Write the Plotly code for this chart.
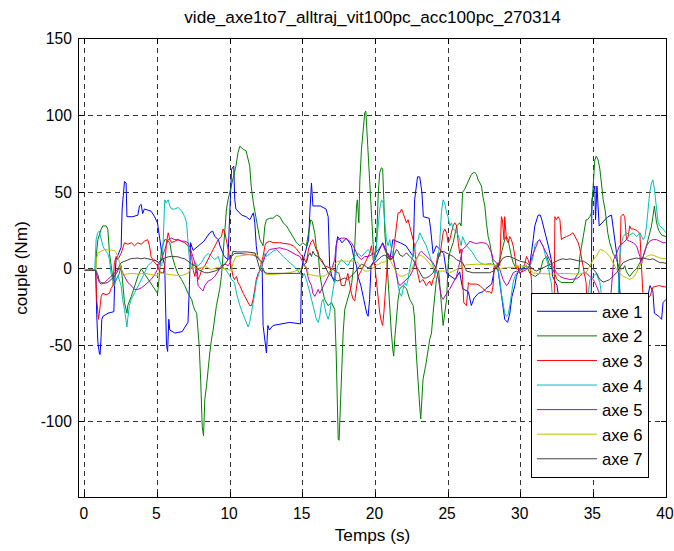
import plotly.graph_objects as go

# ---- data: (time s, torque Nm) breakpoints ----
axe1 = [(0,-1),(0.75,-1),(0.82,-30),(0.9,-48),(1.0,-55),(1.05,-56),(1.12,-45),(1.17,-33),(1.25,-31),(1.6,-29),(2.0,-28),(2.05,-10),(2.15,6),(2.3,9),(2.5,14),(2.57,39),(2.73,57),(2.84,56),(2.9,34),(3.3,34),(3.65,35),(3.76,41),(3.88,42),(3.98,36),(4.1,39),(4.56,37.6),(4.8,34),(5.0,30),(5.3,10),(5.5,2),(5.62,-50),(5.7,-54),(5.78,-33),(5.85,-40),(6.2,-42),(6.7,-41),(7.1,-35),(7.2,-11),(7.28,17),(7.45,12),(7.8,15),(8.2,18),(8.6,23.5),(8.8,24.6),(8.95,21),(9.2,19),(9.3,15),(9.6,8),(9.85,6),(10.0,40),(10.1,65),(10.25,67),(10.32,45),(10.4,39),(10.8,35),(11.1,34),(11.35,32),(11.6,36.5),(11.7,30),(11.8,15),(11.9,8),(12.0,6),(12.2,4),(12.27,-37),(12.4,-50),(12.5,-55),(12.6,-37),(12.7,-40),(12.96,-37),(13.5,-36),(14.1,-35),(14.85,-36),(14.92,0),(15.1,8),(15.4,19),(15.5,39),(15.6,56),(15.7,41),(16.2,41),(16.6,39),(16.75,34),(16.85,2),(17.0,-5),(17.2,-9),(17.3,15),(17.4,21),(17.7,17),(18.0,20),(18.35,15),(18.5,8),(18.7,2),(18.8,-5),(19.0,-11),(19.2,-20),(19.4,-29),(19.5,-31),(19.6,-20),(19.7,2),(19.96,6),(20.4,15),(20.5,17),(21.0,6),(21.2,19),(21.7,17),(22.1,15),(22.6,8),(22.7,45),(22.9,60),(23.05,60),(23.2,50),(23.3,34),(23.7,33),(23.8,26),(23.97,10),(24.2,15),(24.7,10),(24.8,2),(24.9,-3),(25.5,-7),(25.8,-2),(26.0,-13),(26.4,-15),(26.6,-24),(26.8,-19),(27.1,-16),(27.4,-15),(27.6,-13),(28.0,-10),(28.1,-5),(28.2,0),(28.4,2),(28.6,-13),(28.8,-29),(28.9,-33),(29.1,-35),(29.25,-29),(29.4,-18),(29.6,-11),(29.7,-5),(29.9,0),(30.3,0),(30.6,1),(30.86,19),(30.97,28),(31.2,35),(31.35,35),(31.45,32),(31.7,23),(31.9,15),(32.1,6),(32.2,-5),(32.5,-11),(32.7,-25),(33.5,-30),(34.4,-30),(34.85,-25),(34.9,45),(35.0,50),(35.1,54),(35.15,32),(35.25,54),(35.4,28),(35.6,30),(36.0,34),(36.25,35),(36.4,23),(36.6,10),(36.8,-11),(36.9,-25),(37.5,-28),(38.5,-28),(38.7,-20),(38.9,-11),(39.1,-15),(39.2,-29),(39.5,-31),(39.7,-33),(39.8,-22),(40.0,-20)]

axe2 = [(0,-1),(0.75,-1),(0.8,10),(0.9,19),(1.13,26),(1.24,28),(1.47,28),(1.58,26),(1.7,10),(1.8,2),(1.97,-11),(2.0,-11),(2.16,-7),(2.38,-3),(2.5,2),(2.6,-7),(2.73,-22),(2.9,-29),(2.96,-24),(3.2,-18),(3.42,-11),(3.65,-5),(3.88,0),(4.1,-3),(4.33,-7),(4.68,-11),(5.0,-16),(5.05,-13),(5.16,0),(5.28,13),(5.5,19),(5.6,19),(5.85,17),(5.97,10),(6.2,2),(6.4,-3),(6.65,-7),(6.88,-11),(7.1,-16),(7.2,-18),(7.35,-20),(7.46,-24),(7.57,-27),(7.7,-29),(7.8,-42),(7.87,-50),(7.98,-74),(8.08,-103),(8.17,-109),(8.2,-98),(8.26,-85),(8.37,-77),(8.49,-63),(8.6,-55),(8.72,-46),(8.83,-40),(9.06,-24),(9.29,-13),(9.4,-5),(9.64,26),(9.75,39),(9.86,45),(9.98,50),(10.1,54),(10.2,60),(10.4,67),(10.55,76),(10.67,80),(10.9,78),(11.1,77),(11.35,67),(11.45,54),(11.6,43),(11.8,32),(12.05,19),(12.27,15),(12.39,28),(12.5,32),(12.73,33),(12.96,33),(13.2,35),(13.42,34),(13.65,30),(13.88,28),(14.1,24.6),(14.34,21),(14.57,17),(14.8,15),(15.0,17),(15.25,15),(15.4,24),(15.55,32),(15.65,31),(15.83,23),(15.94,13),(16.06,11),(16.17,-3),(16.3,-11),(16.5,-20),(16.75,-24),(16.98,-22),(17.2,-26.5),(17.3,-55),(17.4,-85),(17.44,-111),(17.5,-112),(17.55,-98),(17.6,-81),(17.66,-63),(17.78,-42),(17.89,-26.5),(18.1,-20),(18.35,-11),(18.47,-1),(18.58,15),(18.7,41),(18.76,45),(18.86,30),(18.93,58),(19.04,78),(19.15,91),(19.27,102),(19.34,103),(19.4,93),(19.5,80),(19.6,63),(19.7,39),(19.85,15),(19.96,6),(20.07,15),(20.2,50),(20.3,63),(20.42,66),(20.5,65),(20.58,45),(20.65,23),(20.76,10),(20.87,-9),(20.99,-31),(21.1,-42),(21.2,-53),(21.26,-57),(21.33,-46),(21.45,-31),(21.56,-20),(21.68,-13),(21.9,-11),(22.14,-13),(22.36,-20),(22.6,-24),(22.7,-33),(22.8,-53),(22.94,-79),(23.05,-90),(23.12,-98),(23.2,-81),(23.28,-72),(23.4,-66),(23.5,-61),(23.74,-46),(23.86,-42),(23.97,-29),(24.08,-16),(24.2,-7),(24.35,-1),(24.5,-20),(24.66,-37),(24.9,-20),(25.0,2),(25.1,10),(25.35,17),(25.6,28),(25.8,30),(25.9,28),(26.0,50),(26.15,52),(26.35,56),(26.5,60),(26.6,61.5),(26.73,62.6),(26.84,63),(26.96,61.5),(27.07,58),(27.19,56),(27.3,54),(27.4,47),(27.53,41),(27.64,30),(27.76,21),(27.87,17),(28.0,10),(28.1,4),(28.2,2),(28.4,-1),(28.56,6),(28.79,15),(28.9,19),(29.0,21),(29.13,19),(29.36,8),(29.48,4),(29.7,0),(30.0,-1),(30.4,2),(30.63,-3),(31.0,-5),(31.3,-3),(31.55,6),(31.8,8),(32.0,2),(32.2,0),(32.5,-7),(32.8,-9),(33.6,-9),(34.0,-2),(34.07,8),(34.2,15),(34.3,23),(34.4,28),(34.5,32),(34.6,32),(34.76,34),(34.87,36.5),(34.99,56),(35.1,71),(35.2,73.5),(35.33,71),(35.45,65),(35.56,54),(35.68,45),(35.8,39),(36.0,23),(36.13,17),(36.36,10),(36.6,6),(36.8,0),(37.05,0),(37.16,2),(37.28,-2),(37.5,-5),(37.74,-2),(37.97,0),(38.2,4),(38.43,8),(38.66,15),(38.88,23.5),(39.0,28),(39.1,34),(39.2,41),(39.35,30),(39.5,25),(39.7,22),(40.0,21)]

axe3 = [(0,-1),(0.75,-1),(0.82,-20),(0.9,-29),(0.94,-33),(1.0,-29),(1.13,-18),(1.24,-16),(1.47,-17),(1.7,-16),(1.8,-13),(1.93,-11),(2.04,4),(2.16,8),(2.27,6),(2.5,10),(2.6,13),(2.73,17),(2.96,16),(3.2,17),(3.42,15),(3.65,17),(3.88,16),(4.1,18),(4.33,19),(4.45,15),(4.56,8),(4.8,4),(5.0,2),(5.16,-2),(5.4,-3),(5.5,2),(5.62,17),(5.74,23.5),(5.85,19),(5.97,17),(6.2,18),(6.42,19),(6.65,18),(6.88,17),(7.1,15),(7.35,8),(7.46,-1),(7.57,-5),(7.7,2),(7.8,-7),(7.9,-5),(8.03,-1),(8.26,2),(8.49,6),(8.72,10),(8.95,15),(9.18,19),(9.4,21),(9.52,26),(9.64,23.5),(9.75,19),(9.86,13),(9.98,6),(10.2,-5),(10.3,-7),(10.44,-5),(10.55,-9),(10.67,-11),(10.9,-16),(11.1,-20),(11.24,-22),(11.35,-24),(11.47,-24),(11.58,-20),(11.7,-13),(11.8,-7),(11.93,-3),(12.05,-1),(12.16,4),(12.27,8),(12.4,15),(12.5,17),(12.73,18),(12.96,17),(13.42,17),(13.88,16.5),(14.1,16),(14.34,15),(14.57,13),(14.8,10),(15.0,8),(15.25,4),(15.4,13),(15.55,17),(15.7,19),(15.83,15),(16.06,10),(16.2,6),(16.5,2),(17.0,0),(17.5,-3),(17.66,-11),(17.89,-11),(18.1,-3),(18.35,-16),(18.47,-20),(18.58,-21),(18.7,-11),(18.8,-5),(19.04,-1),(19.27,4),(19.5,8),(19.6,10),(19.73,15),(19.85,6),(19.96,2),(20.2,-20),(20.3,-29),(20.42,-35),(20.5,-37),(20.58,-29),(20.7,-11),(20.76,-3),(20.87,10),(20.99,8),(21.1,6),(21.2,8),(21.33,17),(21.45,28),(21.56,36.5),(21.68,36.5),(21.8,39),(21.9,36.5),(22.0,34),(22.14,30),(22.25,32),(22.36,28),(22.48,23.5),(22.6,19),(22.7,15),(22.8,2),(22.94,-5),(23.05,-9),(23.16,-8),(23.28,-7),(23.5,-11),(23.74,-8),(23.86,-11),(23.97,-7),(24.08,-5),(24.2,4),(24.3,10),(24.43,8),(24.54,17),(24.66,23.5),(24.77,26),(24.9,23.5),(25.0,17),(25.12,19),(25.23,23.5),(25.35,28),(25.46,30),(25.6,28),(25.7,17),(25.8,10),(25.9,13),(26.0,-11),(26.08,-22),(26.15,-23),(26.27,-24),(26.4,-9),(26.5,-10),(26.96,-10),(27.2,-11),(27.4,-13),(27.64,-15),(27.87,-15),(28.0,-16),(28.1,-11),(28.18,2),(28.33,2),(28.45,4),(28.56,2),(28.67,34),(28.74,32),(28.85,19),(28.9,34),(29.02,19),(29.13,17),(29.25,21),(29.36,19),(29.48,15),(29.6,8),(29.7,0),(29.8,2),(29.94,-3),(30.2,0),(30.4,8),(30.5,6),(30.63,2),(30.74,-7),(30.8,-30),(31.5,-35),(32.3,-35),(32.35,34),(32.46,32),(32.58,34),(32.7,32),(32.8,19),(32.92,20),(33.15,21),(33.38,22),(33.6,23.5),(33.73,21),(33.84,19),(33.96,17),(34.07,13),(34.2,6),(34.3,0),(34.4,-5),(34.5,-9),(34.6,-30),(36.7,-30),(36.8,-10),(36.9,34),(37.05,35.7),(37.16,34),(37.28,19),(37.4,21),(37.5,28),(37.6,26),(37.74,26),(38.0,25),(38.2,23),(38.3,2),(38.43,-20),(38.9,-18),(39.1,-12),(39.5,-11),(40.0,-12)]

axe4 = [(0,-1),(0.68,-1),(0.78,19),(0.89,23.5),(1.0,24.6),(1.13,19),(1.24,15),(1.36,12.6),(1.58,10),(1.7,6),(1.8,-3),(1.93,-7),(2.04,-11),(2.15,-7),(2.3,-5),(2.5,-11),(2.6,-20),(2.73,-26.5),(2.84,-33),(2.9,-38),(2.96,-32),(3.07,-24),(3.2,-20),(3.42,-16),(3.65,-11),(3.88,-7),(4.1,-3),(4.33,2),(4.56,4),(4.8,6),(5.0,4),(5.3,2),(5.4,19),(5.5,45),(5.6,43),(5.74,45),(5.85,41),(5.97,39),(6.2,39),(6.42,40),(6.65,38),(6.88,34),(7.0,30),(7.1,19),(7.2,6),(7.35,0),(7.57,4),(7.8,2),(8.03,4),(8.26,8),(8.49,10),(8.72,8),(8.95,6),(9.18,8),(9.4,2),(9.64,0),(9.87,-3),(10.1,-7),(10.3,-9),(10.44,-16),(10.67,-24),(10.9,-30),(11.1,-35),(11.24,-38),(11.35,-35),(11.47,-29),(11.58,-22),(11.7,-16),(11.8,-9),(11.93,-5),(12.05,-1),(12.27,6),(12.4,10),(12.5,8),(12.73,10),(12.96,11.5),(13.2,12.6),(13.42,10),(13.65,8),(13.88,6),(14.1,4),(14.34,2),(14.57,0),(14.8,-3),(15.0,-5),(15.1,-3),(15.25,-7),(15.5,-16),(15.6,-20),(15.7,-24),(15.83,-29),(15.94,-33),(16.06,-35),(16.17,-31),(16.3,-22),(16.4,-20),(16.5,-24),(16.6,-29),(16.75,-33),(16.86,-29),(16.98,-20),(17.1,-11),(17.2,-7),(17.3,-3),(17.4,2),(17.66,6),(17.89,4),(18.1,2),(18.35,6),(18.58,8),(18.8,10),(19.04,8),(19.27,10),(19.5,12.6),(19.73,10),(19.96,6),(20.07,15),(20.2,28),(20.3,39),(20.42,45),(20.53,43),(20.65,30),(20.76,19),(20.87,15),(20.99,19),(21.2,8),(21.45,-3),(21.56,-11),(21.68,-16),(21.8,-18),(21.9,-13),(22.0,-9),(22.14,-11),(22.25,-7),(22.36,0),(22.48,6),(22.6,10),(22.8,17),(22.94,19),(23.05,23.5),(23.16,21),(23.28,19),(23.5,15),(23.74,8),(23.97,2),(24.08,-3),(24.2,2),(24.3,6),(24.43,17),(24.54,36.5),(24.66,45),(24.77,43),(24.9,36.5),(25.0,34),(25.12,28),(25.23,30),(25.35,26),(25.6,24),(25.8,19),(25.9,15),(26.0,21),(26.27,15),(26.5,12.6),(26.73,10),(26.96,6),(27.2,4),(27.4,3),(27.64,3),(27.87,3.5),(28.1,3),(28.33,2),(28.45,-1),(28.56,-7),(28.67,-16),(28.79,-22),(28.9,-29),(29.02,-31),(29.13,-30),(29.25,-24),(29.36,-16),(29.48,-9),(29.6,-5),(29.7,-3),(29.94,-1),(30.2,2),(30.6,1),(30.74,4),(30.86,8),(30.97,15),(31.08,17),(31.3,19),(31.4,17),(31.55,15),(31.66,10),(31.78,6),(31.9,2),(32.0,-5),(32.1,-9),(32.2,-20),(34.6,-20),(34.76,-7),(35.0,-5),(35.2,-3),(35.45,-9),(35.6,-20),(36.7,-20),(36.8,6),(36.9,15),(37.05,21),(37.28,23.5),(37.5,22),(37.74,23.5),(37.97,21),(38.2,23.5),(38.43,19),(38.55,21),(38.66,28),(38.77,39),(38.88,50),(39.0,56),(39.1,58),(39.2,52),(39.35,39),(39.46,30),(39.57,28),(39.8,26),(40.0,23.5)]

axe5 = [(0,-1),(0.75,-1),(0.78,-3),(0.9,-7),(1.0,-9),(1.13,-10),(1.36,-9),(1.58,-7),(1.8,-5),(2.04,-3),(2.27,0),(2.5,0),(2.73,-5),(2.96,-9),(3.2,-11),(3.42,-13.5),(3.65,-13.5),(3.88,-12.5),(4.1,-11),(4.33,-9),(4.56,-7),(4.8,-4),(5.0,-0.5),(5.05,2),(5.28,6),(5.5,12.6),(5.74,19),(5.97,20),(6.2,19),(6.42,19),(6.65,18),(6.88,18),(7.1,17),(7.2,15),(7.35,10),(7.46,8),(7.57,4),(7.7,-3),(7.8,-11),(8.03,-13.5),(8.14,-14.5),(8.26,-11),(8.49,-8),(8.72,-7),(8.95,-5),(9.18,-1.5),(9.4,2),(9.64,3),(9.87,2),(10.0,4),(10.1,8),(10.3,10),(10.67,10),(11.1,9.5),(11.58,9),(11.8,8),(12.05,6),(12.16,3),(12.27,4),(12.4,8),(12.5,10),(12.73,12.6),(12.96,13),(13.2,13.7),(13.42,13.7),(13.65,13),(13.88,12.6),(14.1,11.5),(14.34,10),(14.57,9),(14.8,8),(15.0,4),(15.25,0),(15.4,-7),(15.5,-9),(15.6,-11),(15.7,-16),(15.83,-18),(15.94,-16),(16.06,-13.5),(16.17,-16),(16.3,-13.5),(16.4,-11),(16.5,-9),(16.75,-5),(16.98,-0.5),(17.2,6),(17.3,15),(17.4,19),(17.66,20),(17.89,20),(18.1,19),(18.35,17),(18.58,13),(18.8,8),(19.04,6),(19.27,8),(19.5,8),(19.73,9),(19.96,10),(20.2,12.6),(20.42,15),(20.5,16),(20.76,10),(20.99,8),(21.2,8),(21.33,2),(21.45,-5),(21.56,-9),(21.68,-11),(21.9,-9),(22.14,-7),(22.36,-5),(22.6,-0.5),(22.8,6),(23.05,10.4),(23.16,11.5),(23.28,10.4),(23.5,8),(23.74,6),(23.97,4),(24.2,-0.5),(24.3,-5),(24.43,-11),(24.54,-18),(24.66,-20),(24.77,-18),(24.9,-16),(25.0,-14.5),(25.1,-13.5),(25.35,-9),(25.58,-5),(25.8,4),(25.9,8),(26.0,12.6),(26.27,15),(26.4,17),(26.5,18),(26.73,17),(26.96,16.5),(27.2,17),(27.4,17),(27.64,16.5),(27.76,15),(27.87,12.6),(28.0,10.4),(28.1,6),(28.2,5),(28.33,4),(28.45,2),(28.56,-0.5),(28.79,-7),(29.02,-11),(29.13,-10),(29.25,-7),(29.36,-5),(29.48,-2.6),(29.7,-1.5),(29.94,-2.6),(30.2,-1.5),(30.4,-0.5),(30.6,2),(30.86,10),(31.08,15),(31.2,18),(31.3,19),(31.4,17),(31.55,15),(31.78,10),(32.0,6),(32.2,2),(32.46,-2.6),(32.7,-5),(32.92,-6),(33.15,-6.5),(33.38,-7),(33.84,-6.5),(34.07,-5),(34.3,-2.6),(34.5,-2.6),(34.76,-5),(35.0,-7),(35.2,-11),(35.5,-18),(36.2,-18),(36.4,6),(36.6,10),(36.8,15),(37.05,17),(37.28,19),(37.5,18),(37.74,17),(37.97,15),(38.2,8),(38.3,2),(38.43,8),(38.66,15),(38.88,18),(39.1,19),(39.35,19),(39.57,18),(39.8,17),(40.0,17)]

axe6 = [(0,-1),(0.75,-1),(0.8,6),(0.9,10.4),(1.13,11.5),(1.36,12.5),(2.04,12),(2.16,10.4),(2.27,8),(2.4,4),(2.5,0),(2.6,-2.6),(2.73,-3.7),(3.2,-3),(3.65,-3.5),(4.1,-3),(4.56,-3.7),(5.0,-4.8),(5.05,-2.6),(5.3,-3),(6.0,-4),(6.65,-4.5),(7.1,-3),(7.35,1.5),(7.8,0),(8.3,1.5),(8.7,-0.5),(9.2,1),(9.6,0),(10.1,-1),(10.2,4),(10.4,8),(11.1,9),(11.8,10),(11.93,8),(12.05,6),(12.16,2),(12.27,-0.5),(12.4,-2.6),(12.5,-3.7),(13.2,-3.5),(14.1,-2.6),(14.57,-1.5),(14.8,-0.5),(15.0,2),(15.25,1.5),(15.4,-3.7),(16.0,-4.8),(16.5,-4.8),(16.75,-2.6),(16.98,-0.5),(17.2,2.8),(17.4,5),(18.0,5),(18.58,5),(18.8,4),(18.93,2),(19.04,0.5),(19.27,-1.5),(19.5,-1.5),(19.73,-0.5),(19.96,2),(20.2,2.8),(20.42,4),(20.65,4.5),(20.9,7),(21.0,6),(21.2,2),(21.45,-2.6),(21.68,-4.8),(21.9,-4.8),(22.14,-3.7),(22.36,-2.6),(22.6,2),(22.8,7),(23.05,9),(23.28,8),(23.5,6),(23.74,3),(23.97,0.5),(24.2,-0.5),(24.43,-1.5),(24.9,-1.5),(25.1,-2.6),(25.35,-1.5),(25.6,-0.5),(25.8,1.5),(26.3,2.6),(27.0,3),(27.6,3),(28.1,2.6),(28.33,1.5),(28.56,-0.5),(28.8,0.5),(29.5,1),(30.0,2),(30.4,1.5),(30.63,-0.5),(30.86,-2.6),(31.1,-3),(32.2,-3.5),(33.0,-3),(34.0,-3.5),(34.5,-2.5),(34.76,2),(35.0,6),(35.2,8),(35.45,12.6),(35.68,12),(35.9,10.4),(36.13,8),(36.36,4),(36.6,-0.5),(36.8,-2.6),(37.05,-5),(37.28,-5.8),(37.5,-7),(37.74,-5.8),(37.97,-2.6),(38.2,2),(38.43,6),(38.66,8),(38.88,9),(39.1,9),(39.35,8),(39.57,7),(40.0,6.5)]

axe7 = [(0,-1),(0.75,-1),(0.9,-4),(1.0,-8),(1.13,-9),(1.36,-9.5),(1.58,-9),(1.8,-7),(2.04,-5),(2.27,-1.5),(2.38,2),(2.5,4),(2.73,5),(2.96,6),(3.2,6.7),(3.42,6.8),(3.65,7),(3.88,6.5),(4.1,7),(4.33,6.5),(4.56,6),(4.8,5.5),(5.0,5),(5.05,4),(5.28,6),(5.5,7),(5.74,7.8),(5.97,8),(6.2,8),(6.42,7.8),(6.65,7),(6.88,6.5),(7.1,5),(7.35,3),(7.57,2),(7.8,-0.5),(8.03,-1.5),(8.26,-2.6),(8.49,-2.6),(8.72,-2.2),(8.95,-1.5),(9.18,-0.5),(9.4,0.5),(9.64,3),(9.87,6),(10.1,8),(10.2,11.5),(10.5,11),(11.1,11),(11.6,10.5),(11.7,10.4),(11.8,8),(11.93,4),(12.05,-0.5),(12.16,-1.5),(12.27,-0.5),(12.4,-2.6),(12.6,-3),(13.5,-3),(14.3,-3.2),(14.8,-3),(14.9,-0.5),(15.0,2),(15.25,4),(15.37,8),(15.5,10.4),(15.6,8),(15.7,11.5),(15.83,9),(16.06,8),(16.3,6),(16.5,2),(16.75,-2.6),(16.98,-4.8),(17.2,-7),(17.4,-8),(17.66,-7),(17.89,-6),(18.1,-7),(18.35,-4.8),(18.58,-2.6),(18.8,0.5),(19.04,3),(19.27,2),(19.5,0.5),(19.73,2),(19.96,4),(20.2,6),(20.42,8),(20.65,9),(20.76,8),(20.99,6),(21.2,7),(21.33,10.4),(21.45,12.6),(21.56,11.5),(21.68,9),(21.9,8),(22.14,10.4),(22.36,8),(22.6,6),(22.8,2),(22.94,-0.5),(23.05,-2.6),(23.16,-4.8),(23.28,-6),(23.5,-6),(23.74,-4.8),(23.97,-2.6),(24.2,2),(24.3,6),(24.43,10.4),(24.66,11.5),(24.9,10.4),(25.1,9),(25.35,8),(25.58,6),(25.8,5),(26.0,4),(26.27,-1.5),(26.7,-2.6),(27.4,-2.6),(27.87,-2.6),(28.1,-1.5),(28.33,0.5),(28.56,4),(28.79,7),(29.02,8),(29.25,8),(29.48,7),(29.7,6),(29.94,5),(30.4,4),(30.63,2),(30.86,-0.5),(31.08,-1.5),(31.3,-0.5),(31.55,0.5),(31.78,2),(32.0,3),(32.2,4),(32.46,5),(32.7,6),(32.92,6.5),(33.15,6),(33.38,6.5),(33.6,6),(33.84,5.5),(34.07,5),(34.3,5),(34.5,4),(34.76,2),(35.0,-0.5),(35.2,-2.6),(35.45,-7),(35.68,-8.7),(35.9,-8),(36.13,-7),(36.36,-4.8),(36.6,-2.6),(36.8,0.5),(37.05,4),(37.28,5),(37.5,6),(37.74,6.5),(37.97,7),(38.2,6.5),(38.43,7),(38.66,6.5),(38.88,6),(39.1,6.5),(39.35,5),(39.57,4),(39.8,4),(40.0,3.5)]

series_names = ["axe 1", "axe 2", "axe 3", "axe 4", "axe 5", "axe 6", "axe 7"]
series_data = [axe1, axe2, axe3, axe4, axe5, axe6, axe7]
colors = ["#0000FF", "#008000", "#FF0000", "#00BFBF", "#BF00BF", "#BFBF00", "#404040"]

x_ticks = [0, 5, 10, 15, 20, 25, 30, 35, 40]
y_ticks = [150, 100, 50, 0, -50, -100]
y_tick_labels = ["150", "100", "50", "0", "-50", "-100"]

FONT = "Liberation Sans, Arial, Helvetica, sans-serif"

fig = go.Figure()
for name, data, col in zip(series_names, series_data, colors):
    fig.add_trace(go.Scatter(
        x=[p[0] for p in data], y=[p[1] for p in data],
        mode="lines", name=name, line=dict(color=col, width=1)))

axis_common = dict(
    showline=True, linecolor="black", linewidth=1, mirror="ticks",
    ticks="inside", ticklen=5, tickcolor="black", tickwidth=1,
    showgrid=True, gridcolor="#333333", gridwidth=1, griddash="5px,4px",
    zeroline=False, automargin=False, ticklabeloverflow="allow",
    tickfont=dict(family=FONT, size=15.6, color="black"),
)

fig.update_layout(
    width=674, height=551,
    margin=dict(l=79, r=8, t=39, b=54, autoexpand=False),
    paper_bgcolor="white", plot_bgcolor="white",
    font=dict(family=FONT, color="black"),
    title=dict(text="vide_axe1to7_alltraj_vit100pc_acc100pc_270314",
               x=0.5, xref="paper", xanchor="center",
               y=1 - 17 / 551, yref="container", yanchor="middle",
               font=dict(family=FONT, size=17.2, color="black")),
    xaxis=dict(range=[-0.4, 40], tickvals=x_ticks, ticklabelshift=-1, ticklabelstandoff=2,
               title=dict(text="Temps (s)", font=dict(family=FONT, size=17.2), standoff=8),
               **axis_common),
    yaxis=dict(range=[-149, 150], tickvals=y_ticks, ticktext=y_tick_labels, ticklabelstandoff=3,
               title=dict(text="couple (Nm)", font=dict(family=FONT, size=17.2), standoff=8),
               **axis_common),
    legend=dict(x=0.770, y=0.4454, xanchor="left", yanchor="top",
                bgcolor="white", bordercolor="black", borderwidth=1,
                font=dict(family=FONT, size=16.6, color="black"),
                itemwidth=60, tracegroupgap=0),
    showlegend=True,
)

# remove the default 8px page margin so the 674x551 figure fills the window exactly
fig.write_html("out.html",
               config={"displayModeBar": False},
               post_script=(
                   "document.documentElement.style.margin='0';"
                   "document.body.style.margin='0';document.body.style.padding='0';"
                   "document.body.style.overflow='hidden';"))
